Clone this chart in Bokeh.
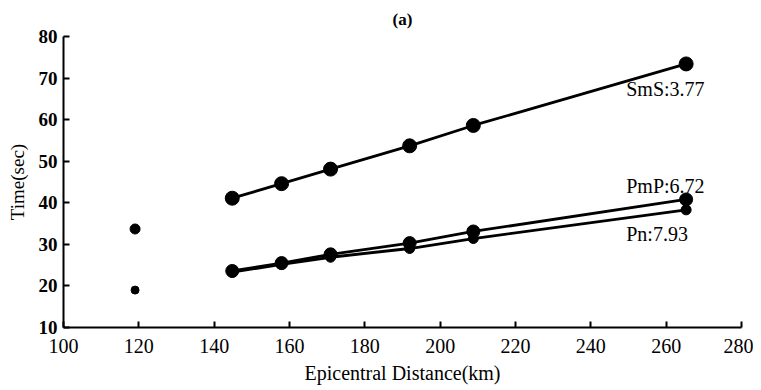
from bokeh.plotting import figure
from bokeh.models import Range1d, FixedTicker, Label, Title
from bokeh.embed import file_html
from bokeh.resources import INLINE

# Data
dist = [144.8, 157.9, 170.9, 191.9, 208.8, 265.3]
sms_time = [41.1, 44.6, 48.1, 53.7, 58.6, 73.4]
pmp_time = [23.6, 25.5, 27.6, 30.3, 33.1, 40.8]
pn_time = [23.3, 25.2, 26.9, 29.0, 31.4, 38.3]
extra_dist = [119.0, 119.0]
extra_time = [33.7, 19.0]
extra_size = [10, 8]
x_ticks = [100, 120, 140, 160, 180, 200, 220, 240, 260, 280]
y_ticks = [10, 20, 30, 40, 50, 60, 70, 80]
labels = ["SmS:3.77", "PmP:6.72", "Pn:7.93"]
label_x = [249.4, 249.4, 249.4]
label_y = [67.4, 44.1, 32.5]

FONT = "Liberation Serif"

p = figure(width=753, height=387, output_backend="svg", toolbar_location=None,
           x_range=Range1d(100, 280), y_range=Range1d(10, 80),
           min_border_left=63, min_border_right=12, min_border_top=36,
           min_border_bottom=60)
p.title = Title(text="(a)", align="center", text_font=FONT, text_font_size="17px",
                text_font_style="bold", text_color="black", standoff=15)
p.outline_line_color = None
p.grid.visible = False
p.background_fill_color = "white"

for ax in (p.xaxis[0], p.yaxis[0]):
    ax.axis_line_width = 2
    ax.axis_line_color = "black"
    ax.major_tick_in = 6
    ax.major_tick_out = 0
    ax.major_tick_line_width = 2
    ax.minor_tick_line_color = None
    ax.major_label_text_font = FONT
    ax.major_label_text_color = "black"
    ax.axis_label_text_font = FONT
    ax.axis_label_text_font_style = "normal"
    ax.axis_label_text_color = "black"

p.xaxis.ticker = FixedTicker(ticks=x_ticks)
p.yaxis.ticker = FixedTicker(ticks=y_ticks)
p.xaxis.axis_label = "Epicentral Distance(km)"
p.yaxis.axis_label = "Time(sec)"
p.xaxis.major_label_text_font_size = "20px"
p.yaxis.major_label_text_font_size = "19px"
p.yaxis.major_label_text_font_style = "bold"
p.xaxis.axis_label_text_font_size = "20px"
p.yaxis.axis_label_text_font_size = "19px"
p.xaxis.major_label_standoff = 11
p.yaxis.major_label_standoff = 6
p.xaxis.axis_label_standoff = 6
p.yaxis.axis_label_standoff = 8

p.line(dist, sms_time, line_color="black", line_width=2.8)
p.line(dist, pmp_time, line_color="black", line_width=2.8)
p.line(dist, pn_time, line_color="black", line_width=2.8)
p.scatter(dist, sms_time, size=14, color="black")
p.scatter(dist, pmp_time, size=13, color="black")
p.scatter(dist, pn_time, size=10, color="black")
p.scatter(extra_dist, extra_time, size=extra_size, color="black")

for t, x, y in zip(labels, label_x, label_y):
    p.add_layout(Label(x=x, y=y, text=t, text_font=FONT, text_font_size="20px",
                       text_color="black", text_baseline="middle", text_align="left"))

open("out.html", "w").write(file_html(p, INLINE))
